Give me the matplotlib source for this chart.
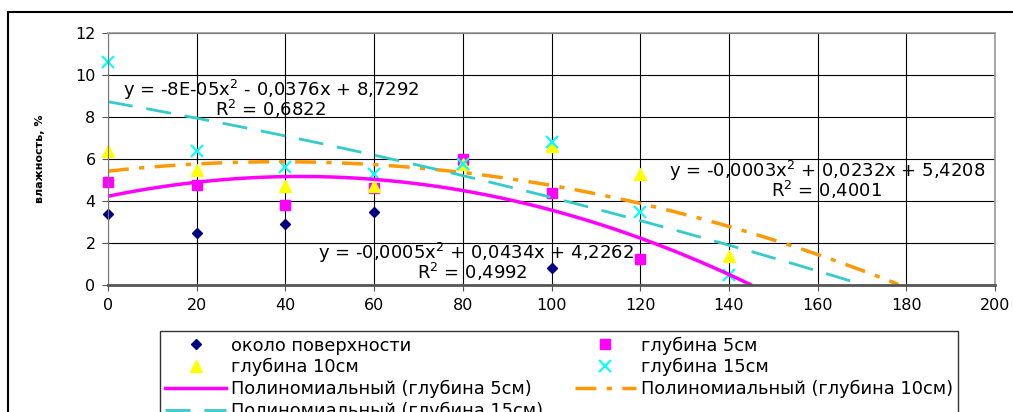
import numpy as np
import matplotlib.pyplot as plt

plt.rcParams['font.family'] = ['DejaVu Sans']

# глубина по профилю, см
dist = [0, 20, 40, 60, 80, 100, 120, 140]
surf = [3.4, 2.5, 2.9, 3.5, 5.75, 0.8, None, None]
d5 = [4.9, 4.75, 3.8, 4.6, 6.0, 4.4, 1.25, None]
d10 = [6.4, 5.5, 4.7, 4.7, 5.75, 6.6, 5.3, 1.4]
d15 = [10.6, 6.4, 5.6, 5.3, 5.75, 6.8, 3.5, 0.5]

# коэффициенты полиномиальных трендов (a, b, c)
p5 = [-0.0005, 0.0434, 4.2262]
p10 = [-0.0003, 0.0232, 5.4208]
p15 = [-8e-05, -0.0376, 8.7292]
eq5 = ['y = -0,0005x$^2$ + 0,0434x + 4,2262', 'R$^2$ = 0,4992']
eq10 = ['y = -0,0003x$^2$ + 0,0232x + 5,4208', 'R$^2$ = 0,4001']
eq15 = ['y = -8E-05x$^2$ - 0,0376x + 8,7292', 'R$^2$ = 0,6822']

W, H = 1013, 412


def pts(vals):
    x = [d for d, v in zip(dist, vals) if v is not None]
    y = [v for v in vals if v is not None]
    return x, y


def px(x, y):
    return x / W, 1 - y / H


fig = plt.figure(figsize=(W / 100, H / 100), dpi=100)
ax = fig.add_axes([108 / W, 1 - 285 / H, 887 / W, 252 / H])

# рамка диаграммы
fig.patches.append(plt.Rectangle((8 / W, -0.1), 1.2, (H - 12) / H + 0.1,
                                 transform=fig.transFigure, fill=False,
                                 edgecolor='black', linewidth=1.5))

xx = np.linspace(0, 180, 400)


def trend(p):
    y = np.polyval(p, xx)
    return np.where(y >= 0, y, np.nan)


h1, = ax.plot(*pts(surf), 'D', color='#000080', ms=5.5, ls='none', clip_on=False,
              label='около поверхности')
h2, = ax.plot(*pts(d5), 's', color='#ff00ff', ms=6.5, ls='none', clip_on=False,
              label='глубина 5см')
h3, = ax.plot(*pts(d10), '^', color='#ffff00', ms=8.5, ls='none', clip_on=False,
              label='глубина 10см')
h4, = ax.plot(*pts(d15), 'x', color='#00ffff', ms=8, mew=1.5, ls='none', clip_on=False,
              label='глубина 15см')
l5, = ax.plot(xx, trend(p5), color='#ff00ff', lw=2.5, label='Полиномиальный (глубина 5см)')
l10, = ax.plot(xx, trend(p10), color='#ff9900', lw=2.5, dashes=(6, 3, 1.5, 3),
               label='Полиномиальный (глубина 10см)')
l15, = ax.plot(xx, trend(p15), color='#33cccc', lw=2, dashes=(9, 5),
               label='Полиномиальный (глубина 15см)')

fs = 11.5
fs_txt = 13
for (cx, cy), txt in [((271, 90), eq15[0]), ((271, 109), eq15[1]),
                      ((476, 253), eq5[0]), ((472, 272), eq5[1]),
                      ((827, 171), eq10[0]), ((827, 190), eq10[1])]:
    fig.text(*px(cx, cy), txt, ha='center', va='center', fontsize=fs_txt)

ax.set_xlim(0, 200)
ax.set_ylim(0, 12)
ax.set_xticks(range(0, 201, 20))
ax.set_yticks(range(0, 13, 2))
ax.grid(True, color='black', linewidth=0.8)
ax.set_axisbelow(True)
for s in ['top', 'right']:
    ax.spines[s].set_color('#999999')
    ax.spines[s].set_linewidth(1.2)
ax.spines['left'].set_color('#777777')
ax.spines['bottom'].set_color('#555555')
ax.spines['bottom'].set_linewidth(2)
ax.tick_params(labelsize=fs, length=4, color='#555555', pad=5)
ax.set_ylabel('влажность, %', fontsize=8, fontweight='bold', labelpad=22)

handles = [h1, h3, l5, l15, h2, h4, l10]
leg = fig.legend(handles, [h.get_label() for h in handles], ncol=2,
                 loc='upper left', bbox_to_anchor=px(160, 331), borderaxespad=0,
                 fontsize=12.8, frameon=True, fancybox=False, edgecolor='black',
                 handlelength=3.4, handletextpad=0.3, borderpad=0.3,
                 labelspacing=0.2, columnspacing=1.8)
leg.get_frame().set_linewidth(1)

fig.savefig('out.png', dpi=100)
